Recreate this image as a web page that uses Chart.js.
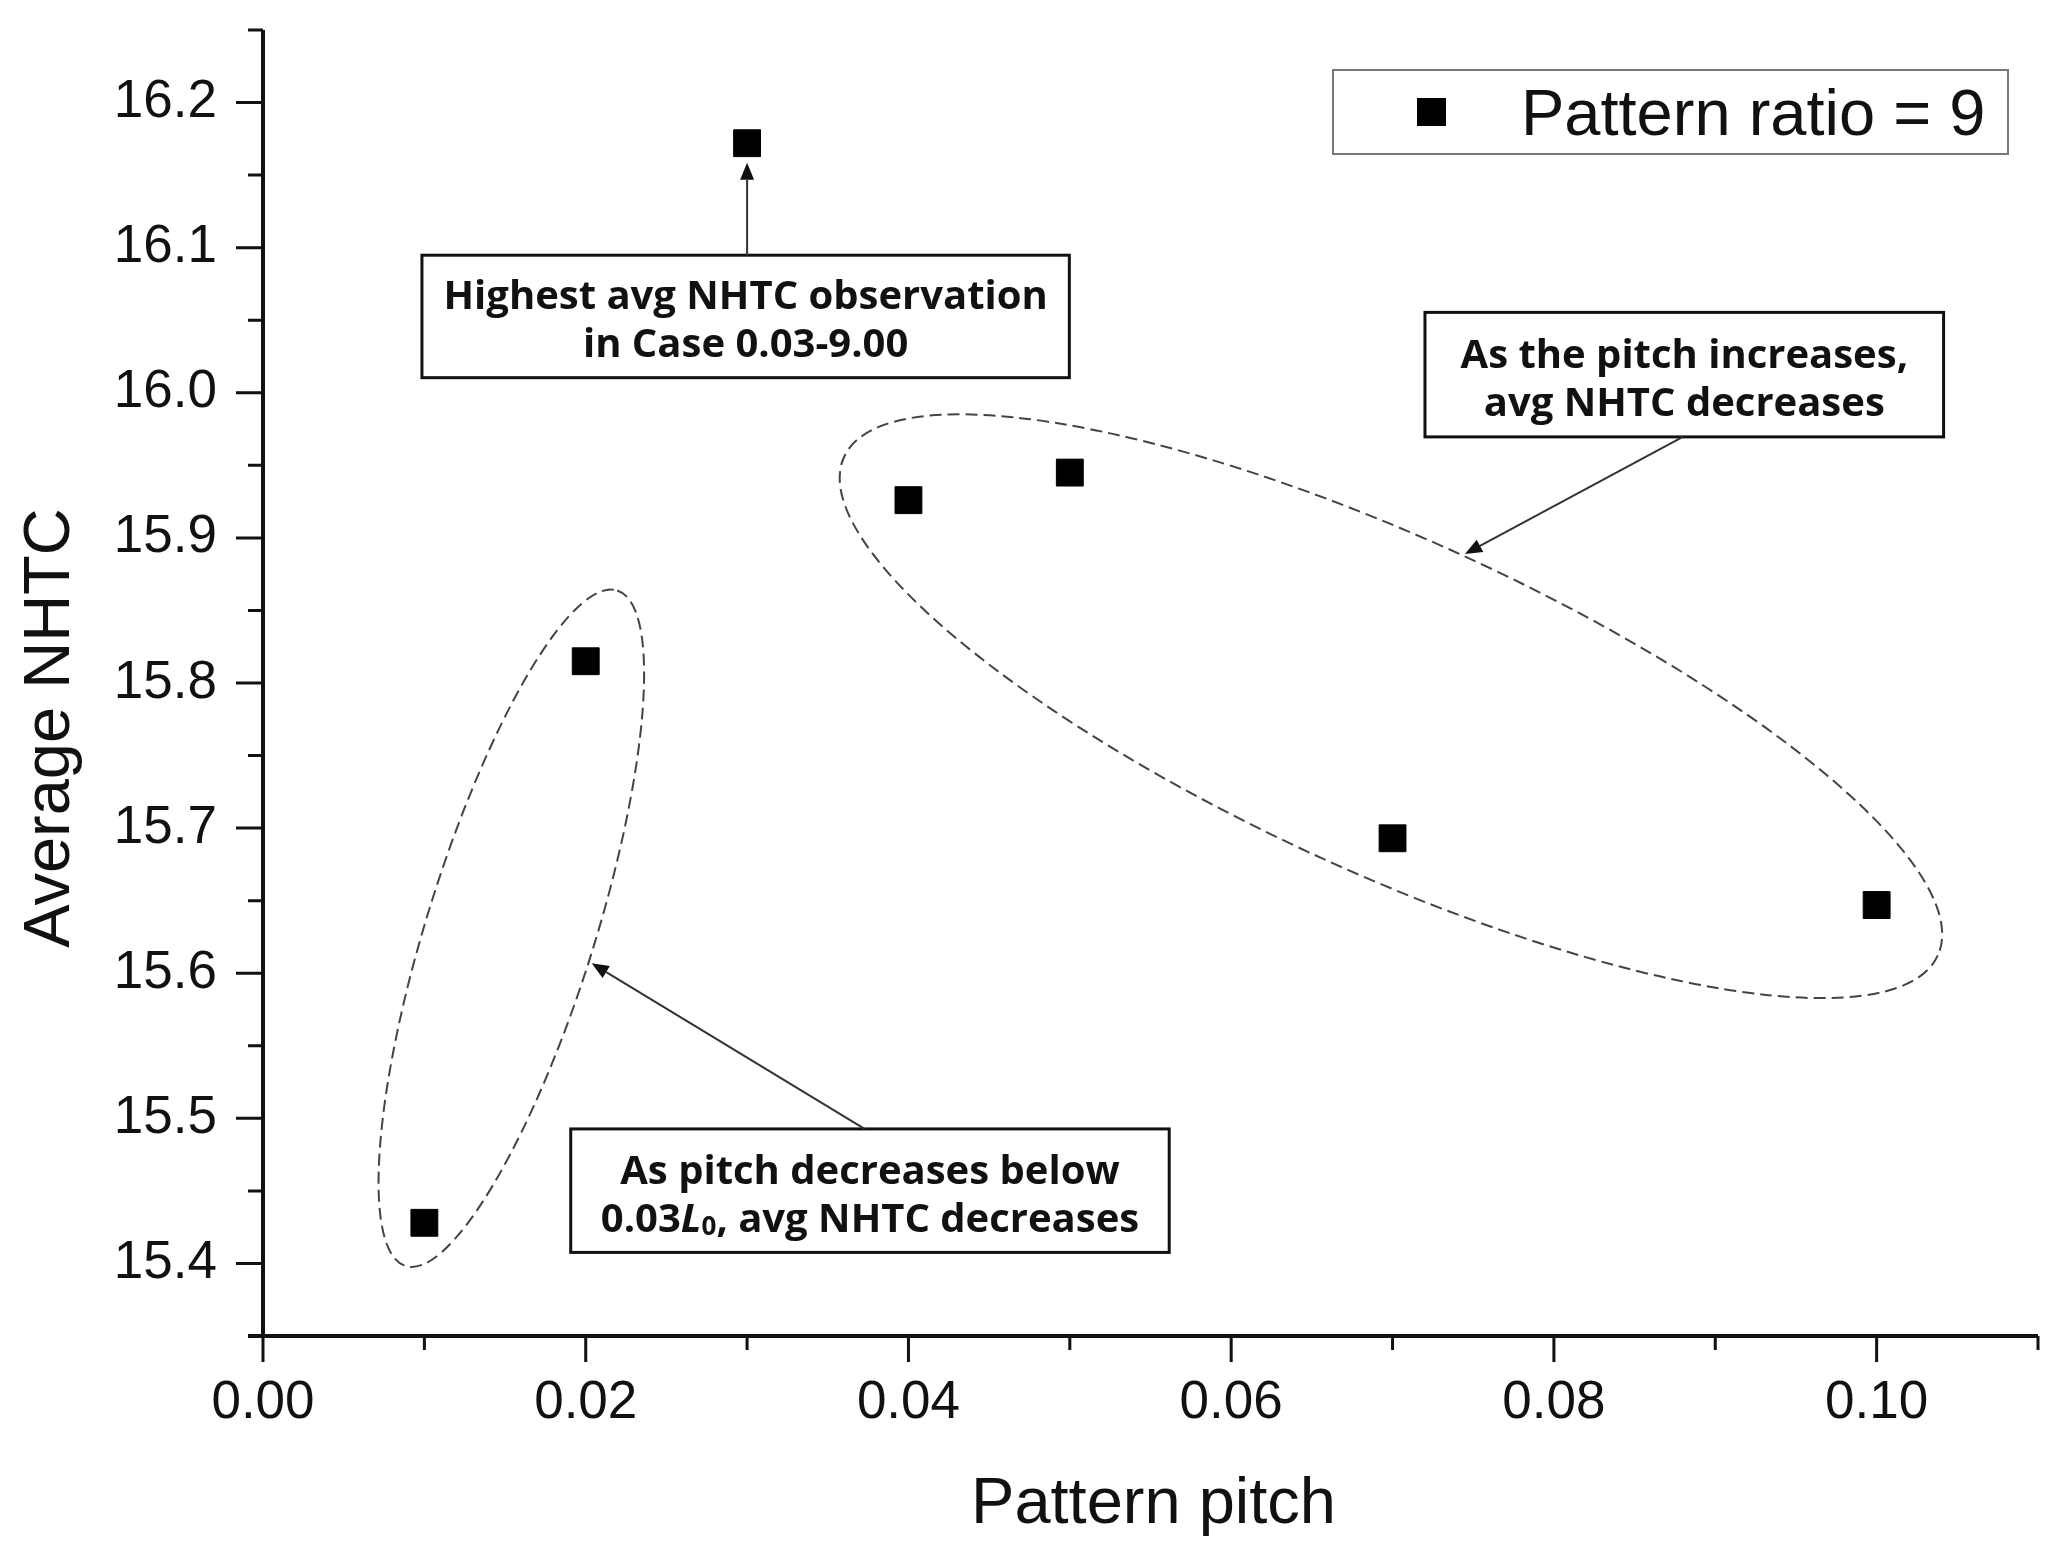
<!DOCTYPE html>
<html>
<head>
<meta charset="utf-8">
<script src="https://cdn.jsdelivr.net/npm/chart.js@4.4.1/dist/chart.umd.min.js"></script>
<style>
html, body { margin: 0; padding: 0; background: #fff; }
#wrap { width: 2070px; height: 1557px; position: relative; }
</style>
</head>
<body>
<div id="wrap"><canvas id="grafico-nhtc"></canvas></div>

<script>
// dados
const pitch = [0.01, 0.02, 0.03, 0.04, 0.05, 0.07, 0.10];
const avgNHTC = [15.428, 15.815, 16.172, 15.926, 15.945, 15.693, 15.647];
const seriesLabel = 'Pattern ratio = 9';

const xRange = [0, 0.11];
const yRange = [15.35, 16.25];
const xTicks = [0.00, 0.02, 0.04, 0.06, 0.08, 0.10];
const xMinorTicks = [0.01, 0.03, 0.05, 0.07, 0.09, 0.11];
const yTicks = [15.4, 15.5, 15.6, 15.7, 15.8, 15.9, 16.0, 16.1, 16.2];
const yMinorTicks = [15.35, 15.45, 15.55, 15.65, 15.75, 15.85, 15.95, 16.05, 16.15, 16.25];

const xTitle = 'Pattern pitch';
const yTitle = 'Average NHTC';

// anotações (coordenadas em unidades dos dados)
const notes = [
    {
        lines: [[{ t: 'Highest avg NHTC observation' }], [{ t: 'in Case 0.03-9.00' }]],
        box: [0.00985, 16.0948, 0.04997, 16.0104],
        from: [0.03, 16.0948],
        to: [0.03, 16.1585]
    },
    {
        lines: [[{ t: 'As the pitch increases,' }], [{ t: 'avg NHTC decreases' }]],
        box: [0.07201, 16.0554, 0.10415, 15.9696],
        from: [0.08799, 15.9696],
        to: [0.07449, 15.8889]
    },
    {
        lines: [
            [{ t: 'As pitch decreases below' }],
            [{ t: '0.03' }, { t: 'L', italic: true }, { t: '0', sub: true }, { t: ', avg NHTC decreases' }]
        ],
        box: [0.01907, 15.4927, 0.05616, 15.4076],
        from: [0.03728, 15.4927],
        to: [0.02037, 15.6069]
    }
];

// elipses tracejadas: centro em dados, semi-eixos em px, rotação em graus
const groups = [
    { c: [0.01539, 15.631], a: 354, b: 84, rot: -72.6 },
    { c: [0.0699, 15.784], a: 601, b: 167, rot: 24.5 }
];

const axisFont = '"Liberation Sans", Arial, sans-serif';
const noteFont = '"Open Sans", "Noto Sans", sans-serif';

const decorPlugin = {
    id: 'decor',
    beforeDatasetsDraw(chart) {
        const ctx = chart.ctx;
        const xs = chart.scales.x, ys = chart.scales.y;
        ctx.save();
        ctx.strokeStyle = '#444';
        ctx.lineWidth = 2;
        ctx.setLineDash([12, 6]);
        groups.forEach(g => {
            ctx.beginPath();
            ctx.ellipse(xs.getPixelForValue(g.c[0]), ys.getPixelForValue(g.c[1]),
                g.a, g.b, g.rot * Math.PI / 180, 0, Math.PI * 2);
            ctx.stroke();
        });
        ctx.restore();
    },
    afterDatasetsDraw(chart) {
        const ctx = chart.ctx;
        const xs = chart.scales.x, ys = chart.scales.y;
        const area = chart.chartArea;
        ctx.save();

        // eixos e marcas
        ctx.strokeStyle = '#111';
        ctx.lineWidth = 4;
        ctx.beginPath();
        ctx.moveTo(area.left, area.top);
        ctx.lineTo(area.left, area.bottom);
        ctx.moveTo(area.left - 15, area.bottom);
        ctx.lineTo(area.right, area.bottom);
        ctx.stroke();
        ctx.lineWidth = 3;
        ctx.beginPath();
        yTicks.forEach(v => { const y = ys.getPixelForValue(v); ctx.moveTo(area.left - 27, y); ctx.lineTo(area.left, y); });
        yMinorTicks.forEach(v => { const y = ys.getPixelForValue(v); ctx.moveTo(area.left - 15, y); ctx.lineTo(area.left, y); });
        xTicks.forEach(v => { const x = xs.getPixelForValue(v); ctx.moveTo(x, area.bottom); ctx.lineTo(x, area.bottom + 26); });
        xMinorTicks.forEach(v => { const x = xs.getPixelForValue(v); ctx.moveTo(x, area.bottom); ctx.lineTo(x, area.bottom + 14); });
        ctx.stroke();

        // títulos dos eixos
        ctx.fillStyle = '#111';
        ctx.font = '65px ' + axisFont;
        ctx.textAlign = 'center';
        ctx.textBaseline = 'alphabetic';
        ctx.fillText(xTitle, (area.left + area.right) / 2 + 3, area.bottom + 187);
        ctx.save();
        ctx.translate(69, (area.top + area.bottom) / 2 + 45);
        ctx.rotate(-Math.PI / 2);
        ctx.fillText(yTitle, 0, 0);
        ctx.restore();

        // legenda
        const lw = 675, lh = 84;
        const lx = area.right - 30 - lw, ly = area.top + 40;
        ctx.strokeStyle = '#777';
        ctx.lineWidth = 2;
        ctx.strokeRect(lx, ly, lw, lh);
        ctx.fillStyle = '#000';
        ctx.fillRect(lx + 84, ly + 28, 29, 28);
        ctx.fillStyle = '#111';
        ctx.textAlign = 'left';
        ctx.font = '65px ' + axisFont;
        ctx.fillText(chart.data.datasets[0].label, lx + 188, ly + 65);

        // caixas de anotação com setas
        notes.forEach(n => {
            const x0 = xs.getPixelForValue(n.box[0]), y0 = ys.getPixelForValue(n.box[1]);
            const x1 = xs.getPixelForValue(n.box[2]), y1 = ys.getPixelForValue(n.box[3]);
            ctx.fillStyle = '#fff';
            ctx.fillRect(x0, y0, x1 - x0, y1 - y0);
            ctx.strokeStyle = '#111';
            ctx.lineWidth = 3;
            ctx.strokeRect(x0, y0, x1 - x0, y1 - y0);

            const cx = (x0 + x1) / 2, cy = (y0 + y1) / 2;
            n.lines.forEach((segs, i) => {
                const base = cy - 7 + i * 48;
                const fontOf = s => (s.italic ? 'italic ' : '') + 'bold ' + (s.sub ? 26 : 40) + 'px ' + noteFont;
                let total = 0;
                segs.forEach(s => { ctx.font = fontOf(s); total += ctx.measureText(s.t).width; });
                let px = cx - total / 2;
                ctx.fillStyle = '#111';
                ctx.textAlign = 'left';
                segs.forEach(s => {
                    ctx.font = fontOf(s);
                    ctx.fillText(s.t, px, base + (s.sub ? 3 : 0));
                    px += ctx.measureText(s.t).width;
                });
            });

            const fx = xs.getPixelForValue(n.from[0]), fy = ys.getPixelForValue(n.from[1]);
            const tx = xs.getPixelForValue(n.to[0]), ty = ys.getPixelForValue(n.to[1]);
            const ang = Math.atan2(ty - fy, tx - fx);
            const hl = 17, hw = 7;
            ctx.strokeStyle = '#333';
            ctx.lineWidth = 2;
            ctx.beginPath();
            ctx.moveTo(fx, fy);
            ctx.lineTo(tx - Math.cos(ang) * hl, ty - Math.sin(ang) * hl);
            ctx.stroke();
            ctx.fillStyle = '#111';
            ctx.beginPath();
            ctx.moveTo(tx, ty);
            ctx.lineTo(tx - Math.cos(ang) * hl - Math.sin(ang) * hw, ty - Math.sin(ang) * hl + Math.cos(ang) * hw);
            ctx.lineTo(tx - Math.cos(ang) * hl + Math.sin(ang) * hw, ty - Math.sin(ang) * hl - Math.cos(ang) * hw);
            ctx.closePath();
            ctx.fill();
        });

        ctx.restore();
    }
};

new Chart(document.getElementById('grafico-nhtc').getContext('2d'), {
    type: 'scatter',
    data: {
        datasets: [{
            label: seriesLabel,
            data: pitch.map((p, i) => ({ x: p, y: avgNHTC[i] })),
            pointStyle: 'rect',
            pointRadius: 19,
            pointHoverRadius: 19,
            backgroundColor: '#000',
            borderColor: '#000',
            borderWidth: 1
        }]
    },
    options: {
        responsive: true,
        maintainAspectRatio: false,
        devicePixelRatio: 1,
        animation: false,
        layout: { padding: { left: 0, right: 32, top: 30, bottom: 0 } },
        plugins: {
            legend: { display: false },
            tooltip: { enabled: false }
        },
        scales: {
            x: {
                type: 'linear',
                min: xRange[0],
                max: xRange[1],
                afterBuildTicks: s => { s.ticks = xTicks.map(v => ({ value: v })); },
                afterFit: s => { s.height = 221; s.paddingLeft = 0; s.paddingRight = 0; },
                grid: { display: false, drawTicks: false },
                border: { display: false },
                ticks: {
                    padding: 36,
                    maxRotation: 0,
                    color: '#111',
                    font: { family: axisFont, size: 53 },
                    callback: v => v.toFixed(2)
                }
            },
            y: {
                type: 'linear',
                min: yRange[0],
                max: yRange[1],
                afterBuildTicks: s => { s.ticks = yTicks.map(v => ({ value: v })); },
                afterFit: s => { s.width = 263; s.paddingTop = 0; s.paddingBottom = 0; },
                grid: { display: false, drawTicks: false },
                border: { display: false },
                ticks: {
                    padding: 46,
                    color: '#111',
                    font: { family: axisFont, size: 53 },
                    callback: v => v.toFixed(1)
                }
            }
        }
    },
    plugins: [decorPlugin]
});
</script>
</body>
</html>
